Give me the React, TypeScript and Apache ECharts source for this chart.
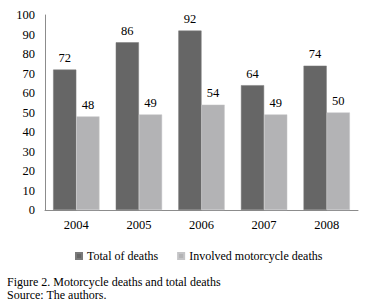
import React, { useEffect, useRef } from "react";
import * as echarts from "echarts";

const years = ["2004", "2005", "2006", "2007", "2008"];
const totalDeaths = [72, 86, 92, 64, 74];
const motorcycleDeaths = [48, 49, 54, 49, 50];
const seriesNames = ["Total of deaths", "Involved motorcycle deaths"];
const captionLines = ["Figure 2. Motorcycle deaths and total deaths", "Source: The authors."];

const FONT = "Liberation Serif";

export default function App() {
  const ref = useRef<HTMLDivElement>(null);
  useEffect(() => {
    document.body.style.margin = "0";
    const chart = echarts.init(ref.current!, null, { renderer: "svg" });
    const labelStyle = {
      show: true,
      position: "top" as const,
      distance: 5,
      color: "#000",
      fontFamily: FONT,
      fontSize: 12.5,
    };
    chart.setOption({
      animation: false,
      textStyle: { fontFamily: FONT, color: "#000" },
      grid: { left: 45, right: 9, top: 15, bottom: 95, containLabel: false },
      legend: {
        left: 70,
        top: 245,
        itemWidth: 6,
        itemHeight: 6,
        itemGap: 19,
        icon: "rect",
        textStyle: { fontFamily: FONT, fontSize: 12, color: "#000" },
        data: seriesNames,
      },
      xAxis: {
        type: "category",
        data: years,
        axisLine: { lineStyle: { color: "#8c8c8c", width: 1 } },
        axisTick: { show: false },
        axisLabel: { fontFamily: FONT, fontSize: 12.5, color: "#000", margin: 8 },
      },
      yAxis: {
        type: "value",
        min: 0,
        max: 100,
        interval: 10,
        axisLine: { show: true, lineStyle: { color: "#8c8c8c", width: 1 } },
        axisTick: { show: false },
        splitLine: { show: false },
        axisLabel: { fontFamily: FONT, fontSize: 12.5, color: "#000", margin: 10 },
      },
      series: [
        {
          name: seriesNames[0],
          type: "bar",
          data: totalDeaths,
          barGap: "0%",
          barCategoryGap: "26%",
          itemStyle: { color: "#666666", borderColor: "#7a7a7a", borderWidth: 0.5 },
          label: labelStyle,
        },
        {
          name: seriesNames[1],
          type: "bar",
          data: motorcycleDeaths,
          barGap: "0%",
          barCategoryGap: "26%",
          itemStyle: { color: "#b3b3b5", borderColor: "#c4c4c6", borderWidth: 0.5 },
          label: labelStyle,
        },
      ],
      graphic: captionLines.map((t, i) => ({
        type: "text",
        left: 7,
        top: 275.5 + i * 13.4,
        style: { text: t, fontFamily: FONT, fontSize: 12, lineHeight: 13, fill: "#000" },
      })),
    });
    return () => chart.dispose();
  }, []);
  return <div ref={ref} style={{ width: 367, height: 305 }} />;
}
